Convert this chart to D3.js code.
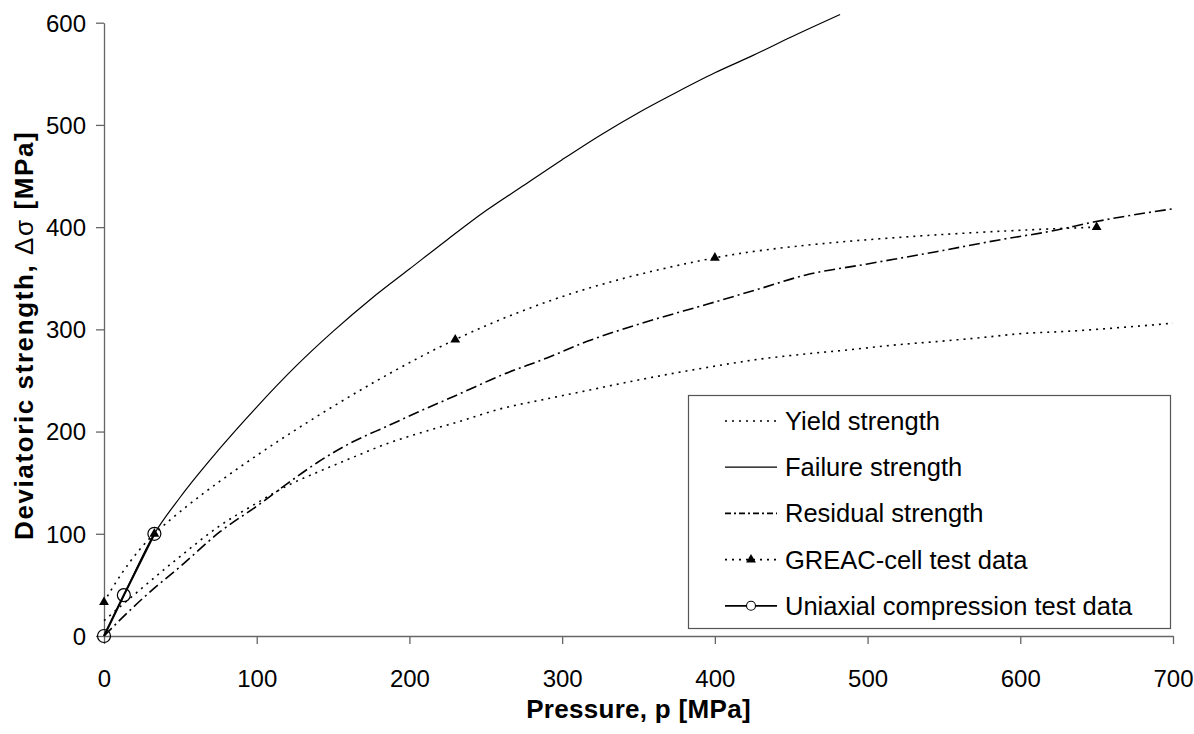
<!DOCTYPE html>
<html>
<head>
<meta charset="utf-8">
<script src="https://cdn.jsdelivr.net/npm/d3@7"></script>
<style>
  html, body { margin: 0; padding: 0; background: #fff; }
  svg { display: block; font-family: "Liberation Sans", Arial, sans-serif; }
</style>
</head>
<body>
<svg id="chart" width="1194" height="734"></svg>
<script>
// Pressure p [MPa] vs. deviatoric strength Δσ [MPa]
const xTicks = [0, 100, 200, 300, 400, 500, 600, 700];
const yTicks = [0, 100, 200, 300, 400, 500, 600];

// Yield strength curve
const yieldP  = [0, 10, 25, 50, 76, 100, 120, 141, 165, 185, 210, 233, 259, 290, 316, 345, 373, 400, 430, 460, 488, 520, 545, 575, 602, 630, 659, 700];
const yieldQ  = [15, 28, 47, 78, 108, 130, 147, 161, 176, 188, 200, 210, 222, 232, 240, 249, 257, 264, 271, 276, 280, 285, 288, 292, 296, 298, 301, 306];

// Failure strength curve
const failP = [0, 13, 33, 50, 75, 100, 125, 150, 175, 200, 225, 250, 275, 300, 325, 350, 375, 400, 425, 450, 482];
const failQ = [0, 40, 100, 136, 182, 224, 263, 298, 330, 359, 388, 416, 441, 466, 490, 512, 532, 551, 568, 586, 608];

// Residual strength curve
const resP = [0, 10, 30, 50, 76, 100, 120, 140, 163, 185, 210, 233, 260, 290, 316, 350, 396, 430, 459, 500, 545, 588, 620, 648, 700];
const resQ = [0, 15, 43, 68, 102, 127, 149, 170, 190, 205, 222, 237, 255, 272, 288, 305, 325, 340, 353, 364, 376, 388, 396, 405, 418];

// GREAC-cell test data
const greacP = [0, 33, 230, 400, 650];
const greacQ = [33, 100, 290, 370, 400];

// Uniaxial compression test data
const uniP = [0, 13, 33];
const uniQ = [0, 40, 100];

const seriesNames = ["Yield strength", "Failure strength", "Residual strength", "GREAC-cell test data", "Uniaxial compression test data"];

const svg = d3.select("#chart");
const x = d3.scaleLinear().domain([0, 700]).range([104, 1173]);
const y = d3.scaleLinear().domain([0, 600]).range([636, 22.7]);

const zip = (a, b) => a.map((v, i) => [v, b[i]]);
const lineGen = d3.line().x(d => x(d[0])).y(d => y(d[1]));

// Axes
const axisColor = "#666";
const gx = svg.append("g").attr("transform", `translate(0,${y(0)})`)
  .call(d3.axisBottom(x).tickValues(xTicks).tickSizeInner(8).tickSizeOuter(0).tickPadding(26));
const gy = svg.append("g").attr("transform", `translate(${x(0)},0)`)
  .call(d3.axisLeft(y).tickValues(yTicks).tickSizeInner(8).tickSizeOuter(0).tickPadding(10));
[gx, gy].forEach(g => {
  g.select(".domain").attr("stroke", axisColor).attr("stroke-width", 1.3);
  g.selectAll(".tick line").attr("stroke", axisColor).attr("stroke-width", 1.3);
  g.selectAll(".tick text").attr("fill", "#000").attr("font-size", 24)
    .attr("font-family", "'Liberation Sans', Arial, sans-serif");
});
gy.selectAll(".tick text").attr("dy", "0.35em");

// Axis titles
svg.append("text")
  .attr("x", (x(0) + x(700)) / 2).attr("y", 718)
  .attr("text-anchor", "middle").attr("font-size", 26).attr("font-weight", "bold")
  .attr("letter-spacing", 0.3)
  .text("Pressure, p [MPa]");

const yt = svg.append("text")
  .attr("transform", `translate(33,${(y(0) + y(600)) / 2 + 6}) rotate(-90)`)
  .attr("text-anchor", "middle").attr("font-size", 26).attr("font-weight", "bold")
  .attr("letter-spacing", 1.6);
yt.append("tspan").text("Deviatoric strength, ");
yt.append("tspan").attr("font-weight", "normal").text("Δσ");
yt.append("tspan").text(" [MPa]");

// Curves
const styles = {
  yield:    { stroke: "#000", width: 1.6, dash: "2,5" },
  failure:  { stroke: "#000", width: 1.2, dash: null },
  residual: { stroke: "#000", width: 1.6, dash: "11,4,2,4" },
  greac:    { stroke: "#000", width: 1.6, dash: "2,5" },
  uni:      { stroke: "#000", width: 2.2, dash: null }
};

function drawLine(data, st, curve) {
  svg.append("path")
    .datum(data)
    .attr("fill", "none")
    .attr("stroke", st.stroke)
    .attr("stroke-width", st.width)
    .attr("stroke-dasharray", st.dash)
    .attr("stroke-linecap", "butt")
    .attr("d", lineGen.curve(curve)(data));
}

drawLine(zip(yieldP, yieldQ), styles.yield, d3.curveMonotoneX);
drawLine(zip(resP, resQ), styles.residual, d3.curveMonotoneX);
drawLine(zip(failP, failQ), styles.failure, d3.curveMonotoneX);
drawLine(zip(greacP, greacQ), styles.greac, d3.curveCatmullRom.alpha(0.5));
drawLine(zip(uniP, uniQ), styles.uni, d3.curveLinear);

// Markers
const tri = d3.symbol().type(d3.symbolTriangle).size(42);
svg.append("g").selectAll("path")
  .data(zip(greacP, greacQ)).join("path")
  .attr("d", tri)
  .attr("transform", d => `translate(${x(d[0])},${y(d[1])})`)
  .attr("fill", "#000");

svg.append("g").selectAll("circle")
  .data(zip(uniP, uniQ)).join("circle")
  .attr("cx", d => x(d[0])).attr("cy", d => y(d[1])).attr("r", 6.5)
  .attr("fill", "none").attr("stroke", "#000").attr("stroke-width", 1.2);

// Legend
const lg = svg.append("g");
lg.append("rect")
  .attr("x", 688.5).attr("y", 395.5).attr("width", 482).attr("height", 233)
  .attr("fill", "#fff").attr("stroke", "#555").attr("stroke-width", 1.2);

const legendStyles = [styles.yield, styles.failure, styles.residual, styles.greac, styles.uni];
const rowY = d => 421 + d * 46.2;
const sx0 = 725, sx1 = 777;
seriesNames.forEach((name, i) => {
  const cy = rowY(i);
  const st = legendStyles[i];
  lg.append("line")
    .attr("x1", sx0).attr("x2", sx1).attr("y1", cy).attr("y2", cy)
    .attr("stroke", st.stroke)
    .attr("stroke-width", i === 4 ? 1.8 : st.width)
    .attr("stroke-dasharray", i === 2 ? "6,3,2,3" : st.dash);
  if (i === 3) {
    lg.append("path").attr("d", tri).attr("transform", `translate(${(sx0 + sx1) / 2},${cy})`).attr("fill", "#000");
  }
  if (i === 4) {
    lg.append("circle").attr("cx", (sx0 + sx1) / 2).attr("cy", cy).attr("r", 4.5)
      .attr("fill", "#fff").attr("stroke", "#000").attr("stroke-width", 1.1);
  }
  lg.append("text")
    .attr("x", 785).attr("y", cy).attr("dy", "0.35em")
    .attr("font-size", 25.5).text(name);
});
</script>
</body>
</html>
